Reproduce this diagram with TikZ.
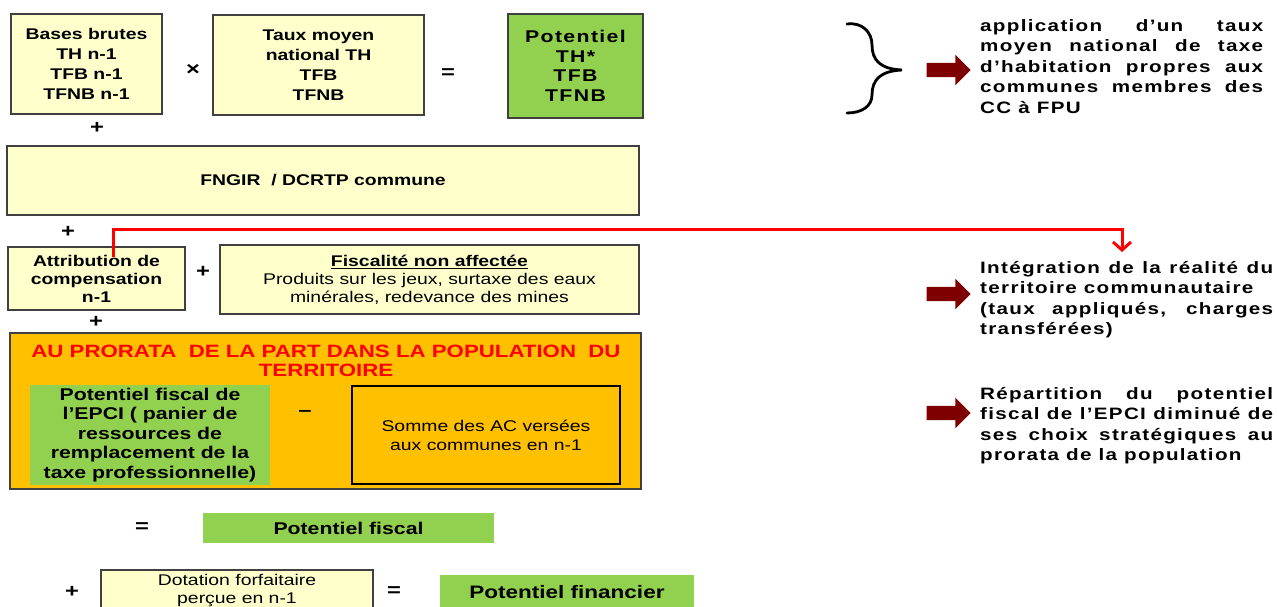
\documentclass[tikz,border=0pt]{standalone}
\usepackage{fontspec}
\setmainfont{Liberation Sans}[FakeStretch=1.25]
\newfontfamily\spacedfont{Liberation Sans}[FakeStretch=1.25,LetterSpace=8]
\usetikzlibrary{arrows.meta,positioning,shapes.arrows}
\definecolor{boxfill}{HTML}{FFFFCC}
\definecolor{boxstroke}{HTML}{404040}
\definecolor{boxgreen}{HTML}{92D050}
\definecolor{boxorange}{HTML}{FFC000}
\definecolor{darkred}{HTML}{7F0000}
\definecolor{linkred}{HTML}{FF0000}

\begin{document}
\begin{tikzpicture}[
  x=1pt, y=-1pt,
  every node/.style={inner sep=0pt},
  ybox/.style={
    draw=boxstroke,
    line width=1.2pt,
    fill=boxfill,
    align=center,
    font=\fontsize{15.5}{20}\selectfont\bfseries
  },
  gbox/.style={
    fill=boxgreen,
    align=center,
    font=\fontsize{17}{19.5}\selectfont\bfseries
  },
  sign/.style={font=\fontsize{19}{19}\selectfont\bfseries},
  note/.style={
    align=justify,
    text width=#1,
    anchor=north west,
    font=\spacedfont\fontsize{16.5}{20.5}\selectfont\bfseries
  },
  blockarrow/.style={
    single arrow,
    fill=darkred,
    minimum height=44pt,
    minimum width=30pt,
    single arrow head extend=8pt,
    inner sep=7pt
  },
  redlink/.style={draw=linkred, line width=3pt, -{Straight Barb[length=8pt,width=18pt]}}
]
  \clip (0,0) rectangle (1277,606);

  % First row: bases x taux = potentiel
  \node[ybox, minimum width=151pt, minimum height=100pt] (bases) at (86.5,64)
    {Bases brutes\\TH n-1\\TFB n-1\\TFNB n-1};
  \node[sign] (times) at (193,70) {×};
  \node[ybox, minimum width=211pt, minimum height=100pt] (taux) at (318.5,65)
    {Taux moyen\\national TH\\TFB\\TFNB};
  \node[sign] (eq1) at (448,74) {=};
  \node[gbox, draw=boxstroke, line width=1.2pt, minimum width=135pt, minimum height=104pt,
    font=\spacedfont\fontsize{17}{19.5}\selectfont\bfseries] (pot) at (575.5,66)
    {Potentiel\\TH*\\TFB\\TFNB};

  % Brace and first comment
  \draw[line width=2.8pt, line cap=round]
    (847,24) .. controls (862,22) and (872,32) .. (872,45)
    .. controls (872,60) and (880,69) .. (902,70)
    .. controls (880,71) and (872,80) .. (872,95)
    .. controls (872,106) and (862,113) .. (847,113);
  \node[blockarrow] (arr1) at (945,70) {};
  \node[note=283pt] (note1) at (980,19)
    {application d’un taux\linebreak moyen national de taxe\linebreak d’habitation propres aux\linebreak communes membres des\linebreak CC à FPU};

  % Second and third rows
  \node[sign] (plus1) at (97,128) {+};
  \node[ybox, minimum width=632pt, minimum height=69pt] (fngir) at (323,180.5)
    {FNGIR\ \ / DCRTP commune};
  \node[sign] (plus2) at (68,232) {+};
  \node[ybox, minimum width=177pt, minimum height=63pt, font=\fontsize{15.5}{18}\selectfont\bfseries]
    (attrib) at (96.5,278.5) {Attribution de\\compensation\\n-1};
  \node[sign] (plus3) at (203,272) {+};
  \node[ybox, minimum width=419pt, minimum height=69pt, font=\fontsize{15.5}{18}\selectfont]
    (fiscal) at (429.5,279.5)
    {\textbf{\underline{Fiscalité non affectée}}\\Produits sur les jeux, surtaxe des eaux\\minérales, redevance des mines};
  \node[sign] (plus4) at (96,322) {+};

  % Prorata block
  \node[draw=boxstroke, line width=1.5pt, fill=boxorange, minimum width=631pt, minimum height=156pt]
    (prorata) at (325.5,411) {};
  \node[align=center, text=linkred, font=\fontsize{17.8}{19}\selectfont\bfseries] (title) at (326,360.5)
    {AU PRORATA\ \ DE LA PART DANS LA POPULATION\ \ DU\\TERRITOIRE};
  \node[gbox, minimum width=240pt, minimum height=100pt] (epci) at (150,435)
    {Potentiel fiscal de\\l’EPCI ( panier de\\ressources de\\remplacement de la\\taxe professionnelle)};
  \node[sign] (minus) at (305,413) {–};
  \node[draw=black, line width=1.2pt, fill=boxorange, minimum width=268pt, minimum height=98pt,
    align=center, font=\fontsize{15.5}{19}\selectfont] (somme) at (486,435)
    {Somme des AC versées\\aux communes en n-1};

  % Results
  \node[sign] (eq2) at (142,528) {=};
  \node[gbox, minimum width=291pt, minimum height=30pt] (potfisc) at (348.5,528) {Potentiel fiscal};
  \node[sign] (plus5) at (72,592) {+};
  \node[ybox, minimum width=272pt, minimum height=42pt, font=\fontsize{15.5}{18}\selectfont]
    (dotation) at (237,591) {Dotation forfaitaire\\perçue en n-1};
  \node[sign] (eq3) at (394,592) {=};
  \node[gbox, minimum width=254pt, minimum height=34pt, font=\fontsize{18}{19.5}\selectfont\bfseries]
    (potfin) at (567,592) {Potentiel financier};

  % Comments on the right
  \node[blockarrow] (arr2) at (945,294) {};
  \node[note=293pt] (note2) at (980,261)
    {Intégration de la réalité du\linebreak territoire communautaire\\(taux appliqués, charges\linebreak transférées)};
  \node[blockarrow] (arr3) at (945,413) {};
  \node[note=293pt] (note3) at (980,387)
    {Répartition du potentiel\linebreak fiscal de l’EPCI diminué de\linebreak ses choix stratégiques au\linebreak prorata de la population};

  % Red link from the compensation box
  \coordinate (redstart) at (113,257);
  \coordinate (redend) at (1122,252);
  \draw[redlink] (redstart) -- ++(0,-28) -| (redend);
\end{tikzpicture}
\end{document}
